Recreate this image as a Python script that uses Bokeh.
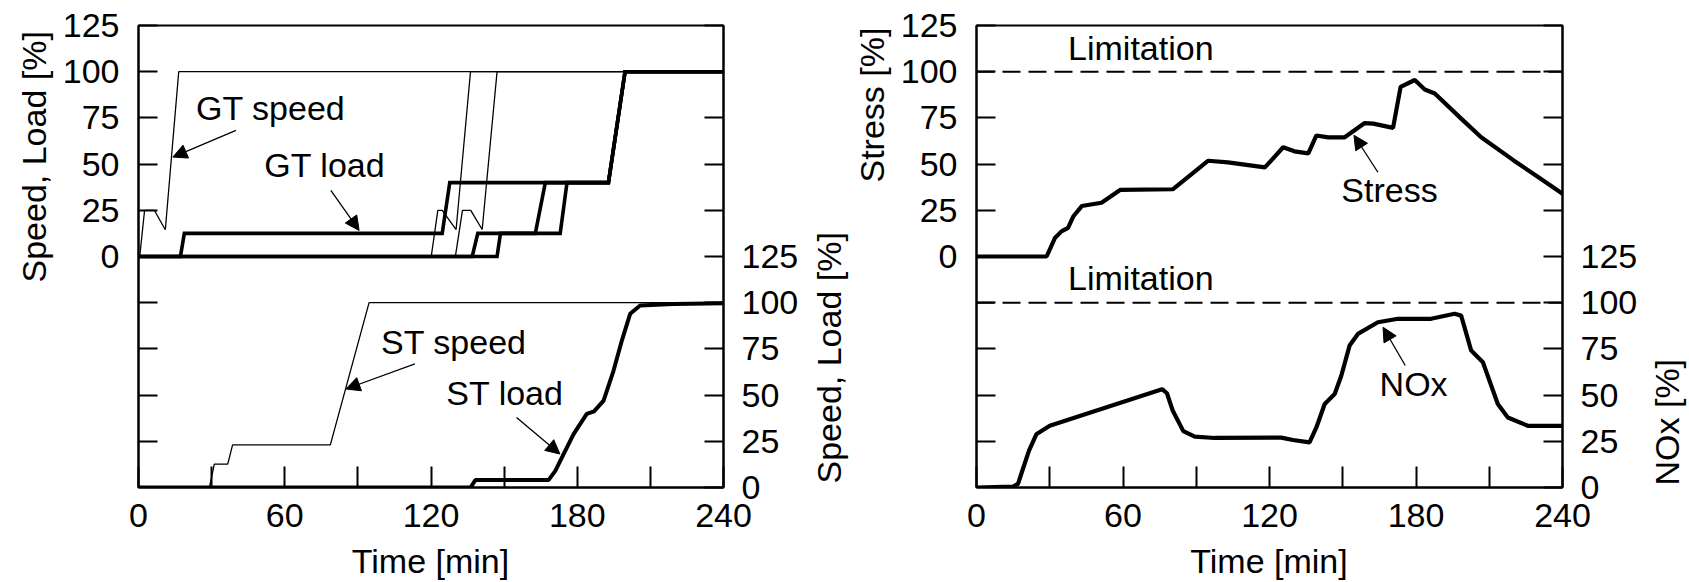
import math
from bokeh.plotting import figure
from bokeh.models import (Range1d, LinearAxis, FixedTicker, CustomJSTickFormatter,
                          Label, Arrow, NormalHead, Span)
from bokeh.layouts import row, column
from bokeh.embed import file_html
from bokeh.resources import INLINE
from bokeh.core.properties import value

# ---------------- data (time in min, values in %) ----------------
gt1_speed_t = [0, 0.5, 2.5, 6.5, 11.0, 16.5, 240]
gt1_speed_v = [0, 0, 25, 25, 14.5, 100, 100]
gt2_speed_t = [0, 120.1, 122.8, 124.6, 130.3, 136.2, 240]
gt2_speed_v = [0, 0, 25, 25, 14.6, 100, 100]
gt3_speed_t = [0, 130.0, 132.9, 136.3, 141.0, 147.1, 240]
gt3_speed_v = [0, 0, 25, 25, 14.6, 100, 100]

gt1_load_t = [0, 17.2, 18.8, 124.6, 127.7, 192.8, 199.6, 240]
gt1_load_v = [0, 0, 12.5, 12.5, 40, 40, 100, 100]
gt2_load_t = [0, 136.9, 139.2, 162.8, 166.9, 192.8, 199.6, 240]
gt2_load_v = [0, 0, 12.5, 12.5, 40, 40, 100, 100]
gt3_load_t = [0, 147.1, 148.5, 173.0, 175.8, 192.8, 199.6, 240]
gt3_load_v = [0, 0, 12.5, 12.5, 40, 40, 100, 100]

st_speed_t = [0, 29.1, 31.1, 36.6, 38.6, 78.7, 94.6, 240]
st_speed_v = [0, 0, 12.6, 12.6, 23.1, 23.1, 100, 100]
st_load_t = [0, 136.2, 138.2, 168.2, 171.0, 174.4, 178.5, 183.9, 186.9, 190.8,
             194.9, 198.3, 201.7, 205.8, 219.4, 240]
st_load_v = [0, 0, 4, 4, 9, 18.1, 28.9, 39.8, 41.2, 47, 63.3, 79.5, 94, 98.5, 99.3, 99.7]

stress_t = [0, 28.7, 32.1, 34.8, 37.5, 39.7, 43.1, 51.2, 58.8, 80.5, 94.8, 103, 118.1,
            125.6, 130.2, 135.9, 139.2, 144, 150.8, 159, 162.5, 170.6, 173.7, 179.5,
            183.6, 187.7, 198.5, 206.7, 220, 230, 240]
stress_v = [0, 0, 10, 13.6, 15.5, 21.8, 27.3, 29.1, 36, 36.4, 51.8, 50.9, 48.2,
            59.1, 56.9, 55.8, 65.5, 64.5, 64.5, 72.2, 71.9, 69.6, 91.8, 95.5,
            90.4, 88.2, 74.6, 64.5, 52, 43, 34]

nox_t = [0, 15, 17, 19, 21.5, 24.5, 30, 76, 78, 80.4, 84.7, 89.4, 97.6, 124.8, 129.6,
         136.4, 139.2, 142.6, 146.7, 149.4, 152.8, 156.2, 164.4, 172.6, 186.2, 195.8,
         198.5, 202.6, 207.4, 213.5, 217.6, 225.8, 240]
nox_v = [0, 0.5, 2, 10, 20, 28.8, 33.4, 53.2, 51, 41.5, 30.5, 27.5, 26.8, 27, 25.7,
         24.4, 32.5, 45.2, 50.6, 60.5, 76.8, 83.1, 89.4, 91.3, 91.3, 94,
         93, 74.1, 67.8, 45.2, 37.9, 33.4, 33.4]

limit = 100

x_ticks = [0, 30, 60, 90, 120, 150, 180, 210, 240]
upper_ticks = [-100, -75, -50, -25, 0, 25, 50, 75, 100, 125]
lower_ticks = [0, 25, 50, 75, 100, 125, 150, 175, 200, 225, 250]

# annotation texts: (text, t, value, range)
left_texts = [("GT speed", 23.6, 80.2, "default"), ("GT load", 51.6, 49.5, "default"),
              ("ST speed", 99.5, 78.8, "lower"), ("ST load", 126.3, 51.0, "lower")]
left_arrows = [(40, 68.3, 14.1, 53.8, "default"), (78.9, 35.8, 90.5, 14.1, "default"),
               (113.4, 66.9, 85.1, 53.3, "lower"), (155.1, 37.9, 172.9, 18.1, "lower")]
right_texts = [("Limitation", 37.5, 112.7, "default"), ("Limitation", 37.5, 113.1, "lower"),
               ("Stress", 149.4, 36.0, "default"), ("NOx", 165.1, 55.8, "lower")]
right_arrows = [(164.4, 45.6, 154.6, 65.6, "default"), (175.6, 66.0, 166.5, 86.7, "lower")]

# layout sizes (pixels)
H = 581          # whole picture
HR = 541         # height of the row holding the panels
FRAME_TOP = 25
FRAME_BOTTOM = 487

# axis titles in side strips: (text, x, y of the lower end, from top of picture)
strip1 = [("Speed, Load [%]", 33.3, 282)]
strip2 = [("Speed, Load [%]", 20.0, 483), ("Stress [%]", 63.4, 182)]
strip3 = [("NOx [%]", 26.7, 485)]
# time labels: (text, x, y from bottom of picture)
time_labels = [("Time [min]", 430.0, 21), ("Time [min]", 1268.5, 21)]

FONT = "Liberation Sans"
FS = "34px"


def style_axis(ax, tick_in):
    ax.axis_line_color = "black"
    ax.axis_line_width = 2
    ax.major_tick_in = tick_in
    ax.major_tick_out = 0
    ax.major_tick_line_width = 2
    ax.major_tick_line_color = "black"
    ax.minor_tick_line_color = None
    ax.major_label_text_font = FONT
    ax.major_label_text_font_size = FS
    ax.major_label_text_color = "black"


def make_panel(width, bl, br):
    p = figure(width=width, height=HR, x_range=Range1d(0, 240), y_range=Range1d(-125, 125),
               output_backend="svg", toolbar_location=None,
               min_border_left=bl, min_border_right=br, min_border_top=FRAME_TOP,
               min_border_bottom=HR - FRAME_BOTTOM)
    p.extra_y_ranges = {"lower": Range1d(0, 250)}
    p.xgrid.visible = False
    p.ygrid.visible = False
    p.outline_line_color = "black"
    p.outline_line_width = 2
    p.background_fill_color = "white"
    p.border_fill_color = "white"

    xa = p.xaxis[0]
    xa.ticker = FixedTicker(ticks=x_ticks)
    xa.formatter = CustomJSTickFormatter(code="return (tick % 60 == 0) ? String(tick) : '';")
    style_axis(xa, 21)
    xa.major_label_standoff = 16

    ya = p.yaxis[0]
    ya.ticker = FixedTicker(ticks=upper_ticks)
    ya.formatter = CustomJSTickFormatter(code="return (tick >= 0) ? String(tick) : '';")
    style_axis(ya, 19)
    ya.major_label_standoff = 19

    ra = LinearAxis(y_range_name="lower")
    ra.ticker = FixedTicker(ticks=lower_ticks)
    ra.formatter = CustomJSTickFormatter(code="return (tick <= 125) ? String(tick) : '';")
    style_axis(ra, 19)
    ra.major_label_standoff = 18
    p.add_layout(ra, "right")
    return p


def add_text(p, texts, arrows):
    for txt, t, v, rn in texts:
        p.add_layout(Label(x=t, y=v, y_range_name=rn, text=txt, text_font=FONT,
                           text_font_size=FS, text_color="black", text_align="left",
                           text_baseline="alphabetic"))
    for t0, v0, t1, v1, rn in arrows:
        p.add_layout(Arrow(end=NormalHead(size=14, fill_color="black", line_color="black",
                                          line_width=1),
                           x_start=t0, y_start=v0, x_end=t1, y_end=v1, y_range_name=rn,
                           line_color="black", line_width=1.3))


def blank(width, height, top=0, bottom=0):
    # data units = pixels measured from the bottom of the figure
    f = figure(width=width, height=height, x_range=Range1d(0, width),
               y_range=Range1d(bottom, height - top),
               output_backend="svg", toolbar_location=None, x_axis_location=None,
               y_axis_location=None, min_border_left=0, min_border_right=0,
               min_border_top=top, min_border_bottom=bottom)
    f.xgrid.visible = False
    f.ygrid.visible = False
    f.outline_line_color = None
    return f


def strip(width, items):
    # same frame top/bottom as the panels, because the row aligns the frames
    f = blank(width, HR, top=FRAME_TOP, bottom=HR - FRAME_BOTTOM)
    f.text(x=[it[1] for it in items], y=[HR - it[2] for it in items],
           text=[it[0] for it in items],
           angle=math.pi / 2, text_font=value(FONT), text_font_size=value(FS),
           text_color="black", text_align="left", text_baseline="middle")
    return f


# ---------------- left panel ----------------
p1 = make_panel(749, 78, 85)
for tt, vv in [(gt1_speed_t, gt1_speed_v), (gt2_speed_t, gt2_speed_v), (gt3_speed_t, gt3_speed_v)]:
    p1.line(tt, vv, line_color="black", line_width=1.3)
for tt, vv in [(gt1_load_t, gt1_load_v), (gt2_load_t, gt2_load_v), (gt3_load_t, gt3_load_v)]:
    p1.line(tt, vv, line_color="black", line_width=3.6, line_join="miter")
p1.line(st_speed_t, st_speed_v, y_range_name="lower", line_color="black", line_width=1.3)
p1.line(st_load_t, st_load_v, y_range_name="lower", line_color="black", line_width=4)
add_text(p1, left_texts, left_arrows)

# ---------------- right panel ----------------
p2 = make_panel(743, 78, 78)
p2.add_layout(Span(location=limit, dimension="width", line_color="black", line_width=2,
                   line_dash="18 8"))
p2.add_layout(Span(location=limit, dimension="width", y_range_name="lower", line_color="black",
                   line_width=2, line_dash="18 8"))
p2.line(stress_t, stress_v, line_color="black", line_width=4.2)
p2.line(nox_t, nox_v, y_range_name="lower", line_color="black", line_width=4.2)
add_text(p2, right_texts, right_arrows)

s1 = strip(59, strip1)
s2 = strip(89, strip2)
s3 = strip(48, strip3)

tstrip = blank(1688, H - HR)
tstrip.text(x=[it[1] for it in time_labels], y=[it[2] for it in time_labels],
            text=[it[0] for it in time_labels], text_font=value(FONT),
            text_font_size=value(FS), text_color="black", text_align="center",
            text_baseline="alphabetic")

layout = column(row(s1, p1, s2, p2, s3), tstrip)
open("out.html", "w").write(file_html(layout, INLINE))
